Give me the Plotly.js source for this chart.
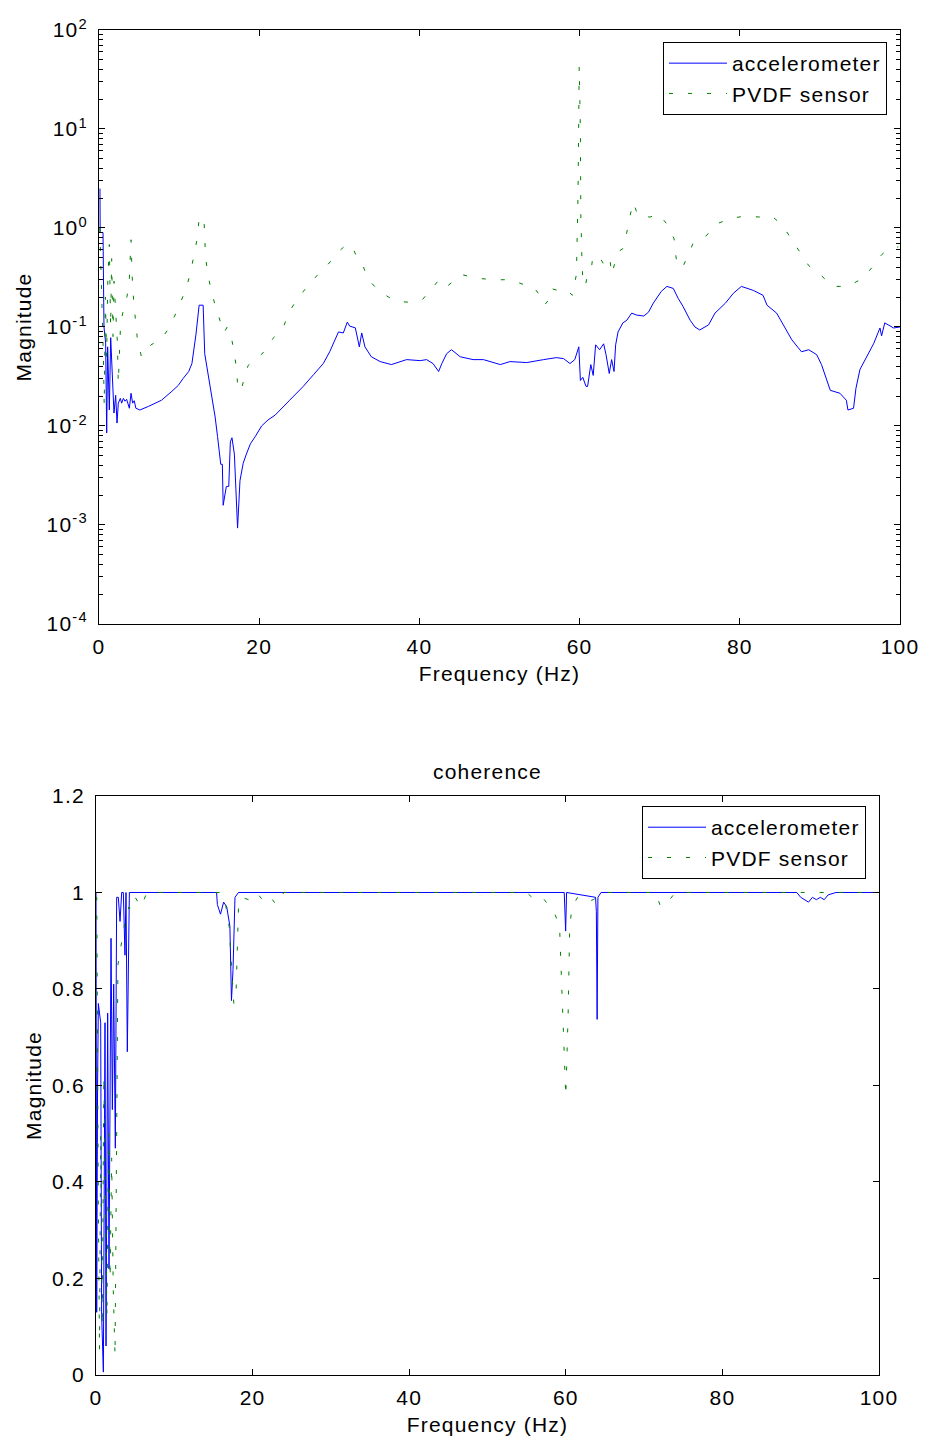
<!DOCTYPE html>
<html>
<head>
<meta charset="utf-8">
<script src="https://cdn.plot.ly/plotly-3.0.1.min.js"></script>
<style>
  html, body { margin: 0; padding: 0; background: #fff; }
  #chart { width: 925px; height: 1442px; }
  text { letter-spacing: 1.2px; }
</style>
</head>
<body>
<div id="chart"></div>
<script>
// ---------- Top panel: magnitude (log scale) ----------
const accelFreq = [0.12, 0.15, 0.5, 0.62, 0.83, 0.96, 1.08, 1.29, 1.46, 1.66, 1.87, 2.08, 2.25, 2.41, 2.66, 2.83, 3.04, 3.25, 3.45, 3.79, 4.0, 4.2, 4.4, 4.6, 5.1, 6.2, 7.8, 9.1, 9.9, 10.5, 11.2, 11.6, 11.8, 12.1, 12.5, 13.0, 13.2, 13.7, 14.1, 14.5, 14.8, 15.2, 15.4, 15.5, 15.9, 16.2, 16.4, 16.6, 16.9, 17.3, 17.6, 18.0, 18.4, 18.9, 19.5, 20.3, 21.1, 22.0, 23.8, 25.5, 26.8, 28.0, 28.8, 29.9, 30.5, 31.0, 31.3, 32.0, 32.5, 32.8, 33.2, 34.0, 35.1, 36.5, 38.4, 40.1, 40.9, 41.7, 42.4, 42.8, 43.4, 44.0, 45.1, 46.7, 48.0, 50.1, 51.3, 53.4, 55.5, 57.1, 58.0, 58.8, 59.4, 59.9, 60.1, 60.4, 60.8, 61.0, 61.4, 61.7, 62.0, 62.5, 63.0, 63.3, 63.7, 64.0, 64.3, 64.5, 64.8, 65.4, 65.9, 66.5, 67.1, 68.0, 68.6, 69.2, 70.2, 70.9, 71.7, 72.3, 72.9, 73.8, 74.4, 75.0, 76.1, 76.9, 78.2, 79.2, 80.2, 81.7, 82.9, 83.4, 84.6, 85.3, 86.5, 87.7, 88.6, 89.6, 90.2, 91.3, 92.5, 93.3, 93.5, 94.2, 94.5, 95.0, 95.4, 96.0, 96.7, 97.5, 97.7, 98.1, 98.5, 99.2, 100];
const accelMag = [2.5, 0.9, 0.9, 0.10, 0.069, 0.0085, 0.063, 0.0145, 0.078, 0.027, 0.0135, 0.0204, 0.0107, 0.017, 0.019, 0.017, 0.019, 0.0178, 0.0186, 0.0151, 0.0214, 0.017, 0.018, 0.0151, 0.0145, 0.0158, 0.0182, 0.0224, 0.0257, 0.0302, 0.0355, 0.0427, 0.0537, 0.0832, 0.166, 0.166, 0.0537, 0.0316, 0.020, 0.0123, 0.0078, 0.0041, 0.0041, 0.00158, 0.00245, 0.00245, 0.0069, 0.0076, 0.0052, 0.00093, 0.0028, 0.0042, 0.0052, 0.0066, 0.0078, 0.010, 0.0115, 0.0129, 0.0182, 0.0251, 0.0331, 0.0427, 0.0562, 0.0891, 0.087, 0.112, 0.102, 0.098, 0.063, 0.087, 0.063, 0.050, 0.0447, 0.0417, 0.0468, 0.0457, 0.0468, 0.0427, 0.0355, 0.0427, 0.0537, 0.0589, 0.050, 0.0468, 0.0468, 0.0417, 0.0447, 0.0437, 0.0468, 0.049, 0.0479, 0.0427, 0.0468, 0.063, 0.0288, 0.031, 0.0251, 0.0251, 0.0417, 0.0324, 0.066, 0.0589, 0.0676, 0.0525, 0.0339, 0.0468, 0.0355, 0.066, 0.0891, 0.11, 0.117, 0.138, 0.132, 0.129, 0.141, 0.174, 0.229, 0.257, 0.245, 0.195, 0.162, 0.117, 0.10, 0.0933, 0.105, 0.138, 0.174, 0.219, 0.257, 0.234, 0.209, 0.166, 0.138, 0.11, 0.0741, 0.0562, 0.0589, 0.0525, 0.0417, 0.0229, 0.0214, 0.0182, 0.0145, 0.0151, 0.024, 0.0372, 0.0427, 0.0537, 0.0676, 0.0977, 0.0813, 0.11, 0.105, 0.0977, 0.10];

const pvdfFreq = [0.1, 0.25, 0.4, 0.55, 0.65, 0.8, 0.95, 1.1, 1.29, 1.45, 1.58, 1.75, 1.87, 2.08, 2.29, 2.41, 2.7, 3.1, 3.5, 3.78, 4.0, 4.1, 4.2, 4.4, 4.6, 4.8, 5.3, 6.5, 7.8, 8.65, 9.5, 10.1, 10.9, 11.5, 11.9, 12.3, 12.5, 13.1, 13.2, 13.3, 13.6, 14.0, 14.5, 15.1, 15.6, 16.0, 16.4, 16.8, 17.1, 17.3, 17.7, 18.2, 18.6, 19.5, 20.5, 21.8, 23.0, 23.6, 24.7, 25.9, 27.2, 28.6, 29.9, 30.7, 31.5, 32.4, 32.9, 33.6, 35.0, 37.0, 38.6, 40.4, 41.7, 42.6, 43.6, 45.2, 47.4, 49.6, 51.4, 53.3, 54.2, 55.3, 55.6, 56.1, 56.4, 57.3, 58.3, 59.1, 59.6, 59.8, 59.9, 59.95, 60.1, 60.15, 60.3, 60.4, 60.7, 60.9, 61.5, 61.6, 62.3, 63.2, 63.8, 64.0, 64.8, 65.4, 65.9, 66.2, 66.5, 66.7, 67.3, 68.8, 69.9, 71.0, 71.8, 72.0, 72.2, 72.9, 73.5, 74.2, 75.8, 77.1, 79.0, 80.8, 82.4, 84.0, 85.3, 86.5, 87.5, 88.6, 89.9, 91.6, 93.5, 95.3, 96.5, 97.7, 98.3, 99.8];
const pvdfMag = [1.0, 0.4, 0.12, 0.05, 0.016, 0.2, 0.05, 0.3, 0.68, 0.1, 0.49, 0.08, 0.29, 0.155, 0.071, 0.027, 0.11, 0.155, 0.204, 0.295, 0.76, 0.41, 0.25, 0.158, 0.10, 0.074, 0.05, 0.066, 0.076, 0.095, 0.132, 0.174, 0.245, 0.38, 0.55, 0.81, 1.26, 1.26, 0.81, 0.51, 0.339, 0.234, 0.166, 0.12, 0.087, 0.10, 0.089, 0.060, 0.0417, 0.0269, 0.0224, 0.0316, 0.0407, 0.0468, 0.055, 0.078, 0.098, 0.135, 0.19, 0.25, 0.33, 0.43, 0.575, 0.66, 0.676, 0.468, 0.427, 0.302, 0.229, 0.182, 0.178, 0.19, 0.25, 0.309, 0.263, 0.339, 0.309, 0.30, 0.30, 0.263, 0.257, 0.195, 0.166, 0.186, 0.245, 0.234, 0.24, 0.209, 0.339, 2.09, 14.5, 42.7, 9.8, 1.41, 0.436, 0.309, 0.257, 0.309, 0.407, 0.479, 0.537, 0.407, 0.479, 0.339, 0.575, 0.617, 0.91, 1.23, 1.585, 1.82, 1.32, 1.29, 1.38, 1.07, 0.776, 0.537, 0.407, 0.407, 0.537, 0.708, 0.832, 1.10, 1.26, 1.32, 1.29, 1.32, 1.07, 0.759, 0.562, 0.417, 0.347, 0.257, 0.257, 0.309, 0.398, 0.537, 0.589, 0.646];

const magTickVals = [1e-4, 1e-3, 1e-2, 1e-1, 1e0, 1e1, 1e2];
const magTickText = ['10<sup>-4</sup>', '10<sup>-3</sup>', '10<sup>-2</sup>', '10<sup>-1</sup>', '10<sup>0</sup>', '10<sup>1</sup>', '10<sup>2</sup>'];

// ---------- Bottom panel: coherence ----------
const cohAccelFreq = [0, 0.09, 0.2, 0.3, 0.6, 0.72, 0.94, 1.15, 1.28, 1.49, 1.66, 1.92, 2.09, 2.26, 2.47, 2.64, 2.85, 3.07, 3.28, 3.49, 3.70, 3.83, 4.0, 4.26, 6, 10, 15.4, 15.5, 15.9, 16.3, 16.7, 17.1, 17.3, 17.5, 17.75, 18.2, 30, 45, 59.8, 59.98, 60.1, 63.8, 63.9, 64.0, 64.1, 64.5, 80, 89.5, 90, 90.5, 91, 91.5, 92, 92.5, 93, 93.5, 94.5, 100];
const cohAccel = [1.0, 0.13, 0.6, 0.77, 0.73, 0.125, 0.006, 0.73, 0.06, 0.75, 0.22, 0.905, 0.55, 0.81, 0.47, 0.99, 0.99, 0.94, 1.0, 1.0, 0.87, 1.0, 0.67, 1.0, 1.0, 1.0, 1.0, 0.975, 0.955, 0.98, 0.97, 0.93, 0.776, 0.84, 0.99, 1.0, 1.0, 1.0, 1.0, 0.92, 1.0, 0.99, 0.96, 0.737, 0.99, 1.0, 1.0, 1.0, 0.99, 0.985, 0.98, 0.99, 0.985, 0.99, 0.985, 0.995, 1.0, 1.0];

const cohPvdfFreq = [0, 0.1, 0.3, 0.45, 0.6, 0.8, 1.0, 1.2, 1.4, 1.6, 1.8, 2.0, 2.2, 2.43, 2.6, 2.8, 3.0, 3.3, 3.6, 3.9, 4.2, 4.55, 5.0, 5.75, 6.5, 16.0, 16.5, 17.0, 17.3, 17.6, 17.9, 18.2, 18.6, 19.5, 20.5, 21.5, 22.3, 23.0, 24.0, 55.0, 56.0, 57.0, 58.0, 58.5, 59.2, 59.6, 60.0, 60.3, 60.5, 60.8, 61.5, 62.5, 63.5, 65.0, 71.5, 72.0, 72.5, 73.0, 73.5, 74.0, 100];
const cohPvdf = [0.99, 0.99, 0.35, 0.05, 0.5, 0.1, 0.62, 0.35, 0.12, 0.5, 0.2, 0.45, 0.18, 0.04, 0.5, 0.85, 0.87, 0.9, 0.93, 0.95, 0.97, 0.965, 0.99, 0.97, 1.0, 1.0, 0.98, 0.93, 0.85, 0.77, 0.8, 0.97, 0.99, 0.985, 1.0, 0.98, 0.99, 0.975, 1.0, 1.0, 0.985, 0.99, 0.97, 0.96, 0.93, 0.75, 0.577, 0.75, 0.93, 0.97, 0.99, 0.98, 0.985, 1.0, 1.0, 0.975, 0.985, 0.98, 0.99, 1.0, 1.0];

const seriesNames = ['accelerometer', 'PVDF sensor'];
const blue = 'rgb(0,0,255)';
const green = 'rgb(0,128,0)';
const dashPattern = '4px,15px';

const traces = [
  {x: accelFreq, y: accelMag, xaxis: 'x', yaxis: 'y', name: seriesNames[0], mode: 'lines',
   line: {color: blue, width: 1}, legend: 'legend'},
  {x: pvdfFreq, y: pvdfMag, xaxis: 'x', yaxis: 'y', name: seriesNames[1], mode: 'lines',
   line: {color: green, width: 1, dash: dashPattern}, legend: 'legend'},
  {x: cohAccelFreq, y: cohAccel, xaxis: 'x2', yaxis: 'y2', name: seriesNames[0], mode: 'lines',
   line: {color: blue, width: 1}, legend: 'legend2'},
  {x: cohPvdfFreq, y: cohPvdf, xaxis: 'x2', yaxis: 'y2', name: seriesNames[1], mode: 'lines',
   line: {color: green, width: 1, dash: dashPattern}, legend: 'legend2'}
];

const F = {family: '"Liberation Sans", Arial, sans-serif', size: 21, color: '#000'};
const axisBase = {
  showline: true, linecolor: '#000', linewidth: 1, mirror: 'ticks',
  ticks: 'inside', ticklen: 6, tickcolor: '#000', tickwidth: 1,
  showgrid: false, zeroline: false, tickfont: F, automargin: false
};

const layout = {
  width: 925, height: 1442,
  paper_bgcolor: '#fff', plot_bgcolor: '#fff',
  font: F,
  margin: {l: 96, r: 25, t: 30, b: 67},
  showlegend: true,
  xaxis: Object.assign({}, axisBase, {
    domain: [0.00373, 1.0], range: [0, 100], tickvals: [0, 20, 40, 60, 80, 100],
    anchor: 'y', ticklabelstandoff: 4,
    title: {text: 'Frequency (Hz)', font: F, standoff: 9}
  }),
  yaxis: Object.assign({}, axisBase, {
    domain: [0.5584, 1.0], type: 'log', range: [-4, 2], anchor: 'x',
    tickmode: 'array', tickvals: magTickVals, ticktext: magTickText, ticklabelstandoff: 6,
    minor: {ticks: 'inside', ticklen: 4, tickcolor: '#000', dtick: 'D1', showgrid: false},
    title: {text: 'Magnitude', font: F, standoff: 9}
  }),
  xaxis2: Object.assign({}, axisBase, {
    domain: [0, 0.9739], range: [0, 100], tickvals: [0, 20, 40, 60, 80, 100],
    anchor: 'y2', ticklabelstandoff: 4,
    title: {text: 'Frequency (Hz)', font: F, standoff: 9}
  }),
  yaxis2: Object.assign({}, axisBase, {
    domain: [0, 0.4305], range: [0, 1.2], anchor: 'x2',
    tickvals: [0, 0.2, 0.4, 0.6, 0.8, 1, 1.2], ticklabelstandoff: 6,
    title: {text: 'Magnitude', font: F, standoff: 4}
  }),
  legend: {
    x: 0.9838, y: 0.99108, xanchor: 'right', yanchor: 'top',
    bgcolor: '#fff', bordercolor: '#000', borderwidth: 1,
    font: F, itemwidth: 58, tracegroupgap: 0
  },
  legend2: {
    x: 0.9577, y: 0.4230, xanchor: 'right', yanchor: 'top',
    bgcolor: '#fff', bordercolor: '#000', borderwidth: 1,
    font: F, itemwidth: 58, tracegroupgap: 0
  },
  annotations: [{
    text: 'coherence', xref: 'x2 domain', yref: 'paper', x: 0.5, y: 0.449,
    xanchor: 'center', yanchor: 'middle', showarrow: false, font: F
  }]
};

Plotly.newPlot('chart', traces, layout, {displayModeBar: false, staticPlot: true});
</script>
</body>
</html>
